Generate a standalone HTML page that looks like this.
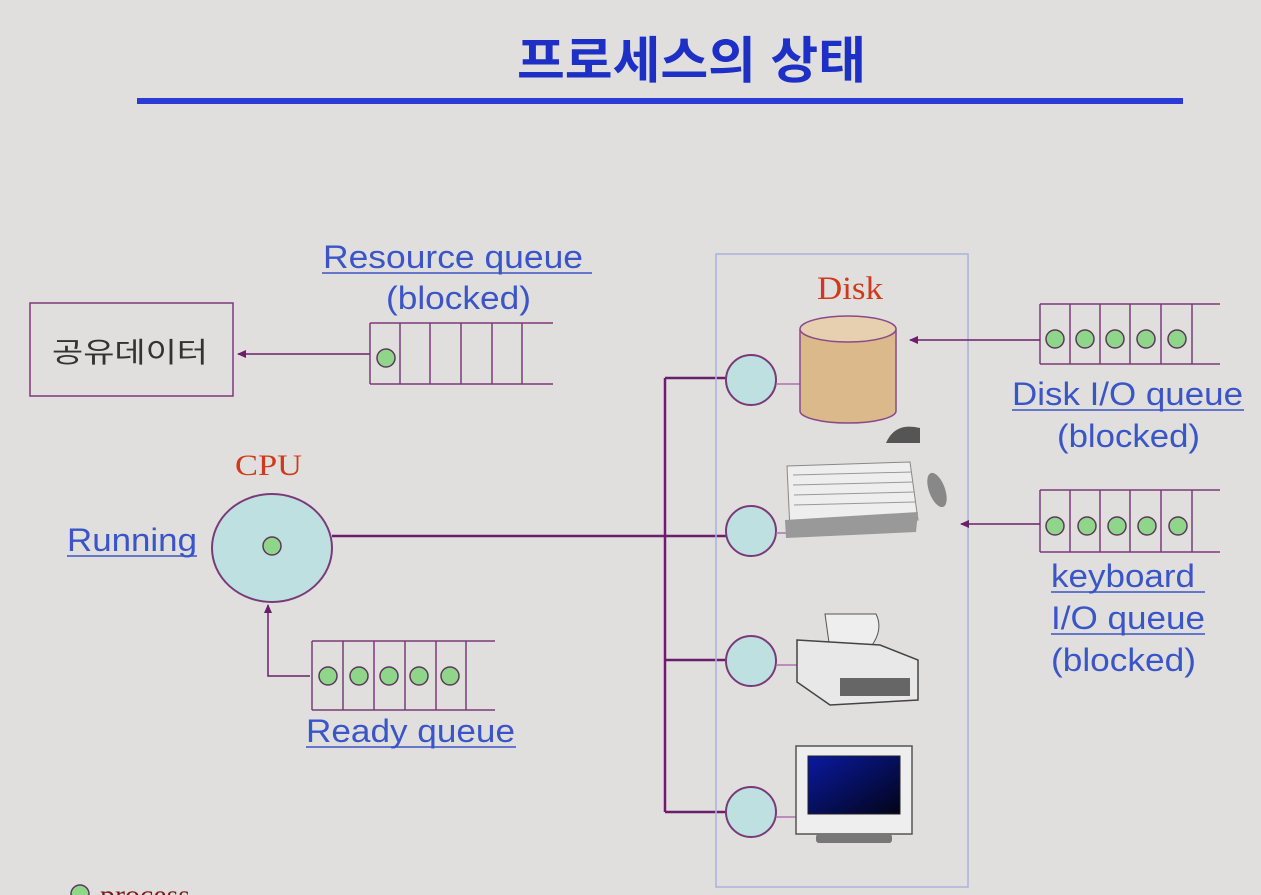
<!DOCTYPE html>
<html><head><meta charset="utf-8"><style>
html,body{margin:0;padding:0;background:#e0dfdd;}
svg{display:block}
text{font-family:"Liberation Sans","Noto Sans CJK KR",sans-serif}
</style></head><body>
<svg width="1261" height="895" viewBox="0 0 1261 895" xmlns="http://www.w3.org/2000/svg">
<defs>
<marker id="ar" markerWidth="10" markerHeight="10" refX="8" refY="5" orient="auto" markerUnits="userSpaceOnUse">
<path d="M0,1 L9,5 L0,9 z" fill="#6a1f6a"/></marker>
<linearGradient id="scr" x1="0" y1="0" x2="1" y2="1"><stop offset="0" stop-color="#0a1aa0"/><stop offset="1" stop-color="#020418"/></linearGradient>
</defs>
<rect width="1261" height="895" fill="#e0dfdd"/>
<text x="517" y="78" font-size="50" font-weight="bold" fill="#1d2fc4" textLength="349" lengthAdjust="spacingAndGlyphs">프로세스의 상태</text>
<rect x="137" y="98" width="1046" height="6" fill="#2b3bd6"/>

<rect x="30" y="303" width="203" height="93" fill="none" stroke="#7a3a7a" stroke-width="1.5"/>
<text x="52" y="362" font-size="28" fill="#333" textLength="156" lengthAdjust="spacingAndGlyphs">공유데이터</text>
<line x1="370" y1="354" x2="238" y2="354" stroke="#6a1f6a" stroke-width="1.5" marker-end="url(#ar)"/>

<g stroke="#7a3a7a" stroke-width="1.5" fill="none">
<line x1="370" y1="323" x2="553" y2="323"/><line x1="370" y1="384" x2="553" y2="384"/>
<line x1="370" y1="323" x2="370" y2="384"/><line x1="400" y1="323" x2="400" y2="384"/><line x1="430" y1="323" x2="430" y2="384"/><line x1="461" y1="323" x2="461" y2="384"/><line x1="492" y1="323" x2="492" y2="384"/><line x1="522" y1="323" x2="522" y2="384"/>
</g>
<circle cx="386" cy="358" r="9" fill="#8fd68a" stroke="#5a3a5a" stroke-width="1.5"/>
<text x="323" y="268" font-size="32" fill="#3a55c8" textLength="260" lengthAdjust="spacingAndGlyphs">Resource queue</text>
<line x1="322" y1="273" x2="592" y2="273" stroke="#3a55c8" stroke-width="1.5"/>
<text x="386" y="309" font-size="32" fill="#3a55c8" textLength="145" lengthAdjust="spacingAndGlyphs">(blocked)</text>

<text x="235" y="475" font-size="30" fill="#d03a1a" style="font-family:'Liberation Serif',serif" textLength="67" lengthAdjust="spacingAndGlyphs">CPU</text>
<ellipse cx="272" cy="548" rx="60" ry="54" fill="#bfe0e0" stroke="#7a3a7a" stroke-width="2"/>
<circle cx="272" cy="546" r="9" fill="#8fd68a" stroke="#5a3a5a" stroke-width="1.5"/>
<text x="67" y="551" font-size="32" fill="#3a55c8" textLength="130" lengthAdjust="spacingAndGlyphs">Running</text>
<line x1="67" y1="556" x2="197" y2="556" stroke="#3a55c8" stroke-width="1.5"/>

<g stroke="#6a1f6a" stroke-width="2.5" fill="none">
<line x1="332" y1="536" x2="726" y2="536"/>
<line x1="665" y1="378" x2="665" y2="812"/>
<line x1="665" y1="378" x2="726" y2="378"/>
<line x1="665" y1="660" x2="726" y2="660"/>
<line x1="665" y1="812" x2="726" y2="812"/>
</g>

<g stroke="#7a3a7a" stroke-width="1.5" fill="none">
<line x1="312" y1="641" x2="495" y2="641"/><line x1="312" y1="710" x2="495" y2="710"/>
<line x1="312" y1="641" x2="312" y2="710"/><line x1="343" y1="641" x2="343" y2="710"/><line x1="374" y1="641" x2="374" y2="710"/><line x1="405" y1="641" x2="405" y2="710"/><line x1="436" y1="641" x2="436" y2="710"/><line x1="466" y1="641" x2="466" y2="710"/>
</g>
<g fill="#8fd68a" stroke="#5a3a5a" stroke-width="1.5">
<circle cx="328" cy="676" r="9"/><circle cx="359" cy="676" r="9"/><circle cx="389" cy="676" r="9"/><circle cx="419" cy="676" r="9"/><circle cx="450" cy="676" r="9"/>
</g>
<polyline points="310,676 268,676 268,605" fill="none" stroke="#6a1f6a" stroke-width="1.5" marker-end="url(#ar)"/>
<text x="306" y="742" font-size="32" fill="#3a55c8" textLength="209" lengthAdjust="spacingAndGlyphs">Ready queue</text>
<line x1="306" y1="747" x2="516" y2="747" stroke="#3a55c8" stroke-width="1.5"/>

<rect x="716" y="254" width="252" height="633" fill="none" stroke="#a8b4dc" stroke-width="1.5"/>
<text x="817" y="299" font-size="33" fill="#d03a1a" style="font-family:'Liberation Serif',serif" textLength="66" lengthAdjust="spacingAndGlyphs">Disk</text>
<g fill="#bfe0e0" stroke="#7a3a7a" stroke-width="2">
<circle cx="751" cy="380" r="25"/><circle cx="751" cy="531" r="25"/><circle cx="751" cy="661" r="25"/><circle cx="751" cy="812" r="25"/>
</g>
<g stroke="#b070b0" stroke-width="1.5"><line x1="776" y1="384" x2="800" y2="384"/><line x1="776" y1="533" x2="790" y2="533"/><line x1="776" y1="665" x2="797" y2="665"/><line x1="776" y1="817" x2="797" y2="817"/></g>
<path d="M800,329 L800,411 A48,12 0 0 0 896,411 L896,329" fill="#dcb98a" stroke="#8a4a8a" stroke-width="1.5"/>
<ellipse cx="848" cy="329" rx="48" ry="13" fill="#e6d0b0" stroke="#8a4a8a" stroke-width="1.5"/>
<path d="M886,443 Q895,422 920,428 L920,443 Z" fill="#555"/>
<path d="M787,466 L910,462 L918,520 L790,530 Z" fill="#eee" stroke="#888"/>
<g stroke="#999" stroke-width="1"><line x1="793" y1="475" x2="912" y2="472"/><line x1="793" y1="485" x2="913" y2="482"/><line x1="794" y1="495" x2="914" y2="492"/><line x1="794" y1="505" x2="915" y2="502"/></g>
<path d="M785,520 L918,512 L916,532 L786,538 Z" fill="#999"/>
<ellipse cx="937" cy="490" rx="8" ry="18" fill="#888" transform="rotate(-20 937 490)"/>
<path d="M825,614 L876,614 Q884,630 870,648 L830,650 Z" fill="#eee" stroke="#555"/>
<path d="M797,640 L880,645 L918,660 L918,700 L830,705 L797,682 Z" fill="#e8e8e8" stroke="#444" stroke-width="1.5"/>
<rect x="840" y="678" width="70" height="18" fill="#666"/>
<rect x="796" y="746" width="116" height="88" fill="#eee" stroke="#555" stroke-width="1.5"/>
<rect x="808" y="756" width="92" height="58" fill="url(#scr)" stroke="#222"/>
<rect x="816" y="834" width="76" height="9" rx="3" fill="#777"/>

<g stroke="#7a3a7a" stroke-width="1.5" fill="none">
<line x1="1040" y1="304" x2="1220" y2="304"/><line x1="1040" y1="364" x2="1220" y2="364"/>
<line x1="1040" y1="304" x2="1040" y2="364"/><line x1="1070" y1="304" x2="1070" y2="364"/><line x1="1100" y1="304" x2="1100" y2="364"/><line x1="1130" y1="304" x2="1130" y2="364"/><line x1="1161" y1="304" x2="1161" y2="364"/><line x1="1192" y1="304" x2="1192" y2="364"/>
<line x1="1040" y1="490" x2="1220" y2="490"/><line x1="1040" y1="552" x2="1220" y2="552"/>
<line x1="1040" y1="490" x2="1040" y2="552"/><line x1="1070" y1="490" x2="1070" y2="552"/><line x1="1100" y1="490" x2="1100" y2="552"/><line x1="1130" y1="490" x2="1130" y2="552"/><line x1="1161" y1="490" x2="1161" y2="552"/><line x1="1192" y1="490" x2="1192" y2="552"/>
</g>
<g fill="#8fd68a" stroke="#5a3a5a" stroke-width="1.5">
<circle cx="1055" cy="339" r="9"/><circle cx="1085" cy="339" r="9"/><circle cx="1115" cy="339" r="9"/><circle cx="1146" cy="339" r="9"/><circle cx="1177" cy="339" r="9"/>
<circle cx="1055" cy="526" r="9"/><circle cx="1087" cy="526" r="9"/><circle cx="1117" cy="526" r="9"/><circle cx="1147" cy="526" r="9"/><circle cx="1178" cy="526" r="9"/>
</g>
<line x1="1040" y1="340" x2="910" y2="340" stroke="#6a1f6a" stroke-width="1.5" marker-end="url(#ar)"/>
<line x1="1040" y1="524" x2="961" y2="524" stroke="#6a1f6a" stroke-width="1.5" marker-end="url(#ar)"/>
<text x="1012" y="405" font-size="32" fill="#3a55c8" textLength="231" lengthAdjust="spacingAndGlyphs">Disk I/O queue</text>
<line x1="1012" y1="410" x2="1244" y2="410" stroke="#3a55c8" stroke-width="1.5"/>
<text x="1057" y="447" font-size="32" fill="#3a55c8" textLength="143" lengthAdjust="spacingAndGlyphs">(blocked)</text>
<text x="1051" y="587" font-size="32" fill="#3a55c8" textLength="144" lengthAdjust="spacingAndGlyphs">keyboard</text>
<line x1="1051" y1="592" x2="1205" y2="592" stroke="#3a55c8" stroke-width="1.5"/>
<text x="1051" y="629" font-size="32" fill="#3a55c8" textLength="154" lengthAdjust="spacingAndGlyphs">I/O queue</text>
<line x1="1051" y1="634" x2="1205" y2="634" stroke="#3a55c8" stroke-width="1.5"/>
<text x="1051" y="671" font-size="32" fill="#3a55c8" textLength="145" lengthAdjust="spacingAndGlyphs">(blocked)</text>

<circle cx="80" cy="894" r="9" fill="#8fd68a" stroke="#5a3a5a" stroke-width="1.5"/>
<text x="100" y="905" font-size="30" fill="#7a1a1a" style="font-family:'Liberation Serif',serif">process</text>
</svg>
</body></html>
